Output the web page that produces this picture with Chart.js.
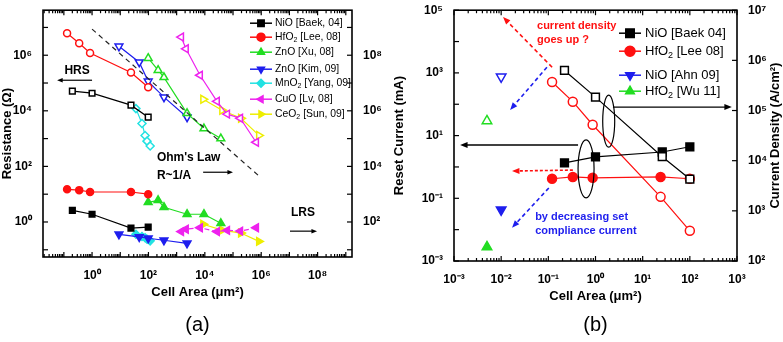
<!DOCTYPE html>
<html><head><meta charset="utf-8">
<script src="https://cdn.jsdelivr.net/npm/chart.js@4.4.1/dist/chart.umd.min.js"></script>
<style>
html,body{margin:0;padding:0;background:#fff;}
#wrap{position:relative;width:783px;height:342px;overflow:hidden;background:#fff;}
#ca{position:absolute;left:0;top:0;}
#cb{position:absolute;left:392px;top:0;}
</style></head><body>
<div id="wrap"><canvas id="ca" width="392" height="342"></canvas><canvas id="cb" width="391" height="342"></canvas></div>
<script>
// ================= Panel (a) data : resistance vs cell area =================
const baekAreaA = [0.2, 1, 24, 98];
const baekHRS   = [5.1e4, 4.3e4, 1.6e4, 5.9e3];
const baekLRS   = [2.6, 1.9, 0.6, 0.65];
const leeAreaA  = [0.13, 0.35, 0.85, 24, 98];
const leeHRS    = [6.2e6, 2.7e6, 1.2e6, 2.4e5, 7.0e4];
const leeLRS    = [15, 14, 12, 12, 10];
const xuArea    = [98, 220, 355, 2340, 9300, 37000];
const xuHRS     = [7.8e5, 2.9e5, 1.6e5, 8.1e3, 2.3e3, 1.0e3];
const xuLRS     = [5.1, 6.0, 3.4, 1.9, 1.9, 0.9];
const kimArea   = [9, 47, 98, 355, 2340];
const kimHRS    = [2.1e6, 5.6e5, 1.15e5, 3.1e4, 5.9e3];
const kimLRS    = [0.36, 0.29, 0.26, 0.22, 0.17];
const yangArea  = [36, 59, 76, 89, 115];
const yangHRS   = [1.2e4, 3.5e3, 1.3e3, 810, 540];
const yangLRS   = [0.36, 0.30, 0.27, 0.24, 0.21];
const lvArea    = [1450, 2140, 6760, 27000, 62000, 180000, 660000];
const lvHRS     = [4.5e6, 1.7e6, 1.9e5, 2.2e4, 7.6e3, 5.4e3, 740];
const lvLRS     = [0.45, 0.55, 0.62, 0.45, 0.50, 0.47, 0.62];
const sunArea   = [8700, 41000, 190000, 830000];
const sunHRS    = [2.6e4, 1.05e4, 5.4e3, 1.3e3];
const sunLRS    = [0.83, 0.51, 0.40, 0.20];
const ohmArea   = [1, 7.8e5];
const ohmR      = [8.7e6, 48];
const aXTickExps  = [0, 2, 4, 6, 8];
const aYTickExps  = [0, 2, 4, 6];
const aY2TickExps = [2, 4, 6, 8];

// ================= Panel (b) data : reset current / current density =================
const baekAreaB   = [0.22, 1.0, 26, 100];
const baekDensity = [6.3e5, 1.85e5, 1.2e4, 4.3e3];
const baekReset   = [1.35, 2.1, 3.0, 4.4];
const leeAreaB    = [0.12, 0.33, 0.87, 24, 100];
const leeDensity  = [3.7e5, 1.5e5, 5.2e4, 1.9e3, 400];
const leeReset    = [0.42, 0.48, 0.45, 0.48, 0.42];
const ahnArea     = [0.01];
const ahnDensity  = [4.7e5];
const ahnReset    = [0.043];
const wuArea      = [0.005];
const wuDensity   = [6.2e4];
const wuReset     = [0.0028];
const bXTickExps  = [-3, -2, -1, 0, 1, 2, 3];
const bYTickExps  = [-3, -1, 1, 3, 5];
const bY2TickExps = [2, 3, 4, 5, 6, 7];

// ================= helpers =================
const FONT = "'Liberation Sans', Arial, Helvetica, sans-serif";
const SUP = {'-':'\u207B','0':'\u2070','1':'\u00B9','2':'\u00B2','3':'\u00B3','4':'\u2074','5':'\u2075','6':'\u2076','7':'\u2077','8':'\u2078','9':'\u2079'};
const sup = n => String(n).split('').map(c => SUP[c]).join('');
const pts = (xs, ys) => xs.map((x, i) => ({x, y: ys[i]}));
function logLabel(exps){
  return function(v){
    const e = Math.log10(v), r = Math.round(e);
    if (Math.abs(e - r) < 1e-6 && exps.includes(r)) return '10' + sup(r);
    return '';
  };
}
const C = {black:'#000000', red:'#ff1010', green:'#22dd22', blue:'#1e1eee', cyan:'#22e2e2', magenta:'#ee22ee', yellow:'#eeee00'};

function ser(data, color, style, rot, open, r, opts){
  return Object.assign({
    data, showLine: true, borderColor: color, borderWidth: 1.2,
    pointStyle: style, rotation: rot, pointRadius: r, pointHoverRadius: r,
    pointBorderColor: color, pointBackgroundColor: open ? '#ffffff' : color,
    pointBorderWidth: 1.5, fill: false, tension: 0
  }, opts || {});
}

function logScale(pos, min, max, exps, title, size){
  return {
    type: 'logarithmic', position: pos, min, max,
    grid: {display: false}, border: {display: false},
    ticks: {autoSkip: false, maxRotation: 0, minRotation: 0, padding: 3,
      color: '#000', font: {family: FONT, size: 12, weight: 'bold'}, callback: logLabel(exps)},
    title: title ? {display: true, text: title, color: '#000', padding: 0,
      font: {family: FONT, size: 13, weight: 'bold'}} : {display: false},
    afterFit: s => { if (s.isHorizontal()) s.height = size; else s.width = size; }
  };
}

function drawTicks(ctx, scale, side, area, minor){
  const lo = Math.log10(scale.min), hi = Math.log10(scale.max);
  ctx.save(); ctx.strokeStyle = '#000'; ctx.lineWidth = 1.2;
  for (let e = Math.floor(lo); e <= Math.ceil(hi); e++){
    for (let m = 1; m <= 9; m++){
      if (m > 1 && !minor) continue;
      const v = m * Math.pow(10, e);
      if (v < scale.min * 0.9999 || v > scale.max * 1.0001) continue;
      const p = scale.getPixelForValue(v);
      const len = m === 1 ? 5 : 3;
      ctx.beginPath();
      if (side === 'bottom'){ ctx.moveTo(p, area.bottom); ctx.lineTo(p, area.bottom - len); }
      if (side === 'top'){ ctx.moveTo(p, area.top); ctx.lineTo(p, area.top + len); }
      if (side === 'left'){ ctx.moveTo(area.left, p); ctx.lineTo(area.left + len, p); }
      if (side === 'right'){ ctx.moveTo(area.right, p); ctx.lineTo(area.right - len, p); }
      ctx.stroke();
    }
  }
  ctx.restore();
}

function arrow(ctx, x1, y1, x2, y2, color, dash, lw, head){
  ctx.save(); ctx.strokeStyle = color; ctx.fillStyle = color; ctx.lineWidth = lw;
  const ang = Math.atan2(y2 - y1, x2 - x1);
  ctx.setLineDash(dash || []);
  ctx.beginPath(); ctx.moveTo(x1, y1);
  ctx.lineTo(x2 - head * 0.8 * Math.cos(ang), y2 - head * 0.8 * Math.sin(ang)); ctx.stroke();
  ctx.setLineDash([]);
  ctx.beginPath(); ctx.moveTo(x2, y2);
  ctx.lineTo(x2 - head * Math.cos(ang - 0.38), y2 - head * Math.sin(ang - 0.38));
  ctx.lineTo(x2 - head * Math.cos(ang + 0.38), y2 - head * Math.sin(ang + 0.38));
  ctx.closePath(); ctx.fill(); ctx.restore();
}

// rich text: parts = [[text, isSub]]
function rich(ctx, x, y, parts, size, weight, color){
  ctx.save(); ctx.fillStyle = color; ctx.textBaseline = 'middle'; ctx.textAlign = 'left';
  let cx = x;
  parts.forEach(([t, sub]) => {
    const s = sub ? Math.round(size * 0.72) : size;
    ctx.font = `${weight} ${s}px ${FONT}`;
    ctx.fillText(t, cx, sub ? y + size * 0.3 : y);
    cx += ctx.measureText(t).width;
  });
  ctx.restore();
}

function legendMarker(ctx, x, y, color, style, rot, r){
  ctx.save(); ctx.strokeStyle = color; ctx.lineWidth = 1.5;
  ctx.beginPath(); ctx.moveTo(x - 11, y); ctx.lineTo(x + 11, y); ctx.stroke();
  ctx.fillStyle = color;
  Chart.helpers.drawPoint(ctx, {pointStyle: style, rotation: rot, radius: r, borderWidth: 1}, x, y);
  ctx.fill();
  ctx.restore();
}

function frame(ctx, a){
  ctx.save(); ctx.strokeStyle = '#000'; ctx.lineWidth = 1.6;
  ctx.strokeRect(a.left, a.top, a.right - a.left, a.bottom - a.top); ctx.restore();
}

// ================= Panel (a) =================
const legendA = [
  {parts: [['NiO [Baek, 04]', 0]], color: C.black, style: 'rect', rot: 0, dy: 13},
  {parts: [['HfO', 0], ['2', 1], [' [Lee, 08]', 0]], color: C.red, style: 'circle', rot: 0, dy: 27},
  {parts: [['ZnO [Xu, 08]', 0]], color: C.green, style: 'triangle', rot: 0, dy: 42},
  {parts: [['ZnO [Kim, 09]', 0]], color: C.blue, style: 'triangle', rot: 180, dy: 59},
  {parts: [['MnO', 0], ['2', 1], [' [Yang, 09]', 0]], color: C.cyan, style: 'rectRot', rot: 0, dy: 73},
  {parts: [['CuO [Lv, 08]', 0]], color: C.magenta, style: 'triangle', rot: -90, dy: 89},
  {parts: [['CeO', 0], ['2', 1], [' [Sun, 09]', 0]], color: C.yellow, style: 'triangle', rot: 90, dy: 104}
];

const decoA = {
  id: 'decoA',
  afterDatasetsDraw(chart){
    const ctx = chart.ctx, a = chart.chartArea, sx = chart.scales.x, sy = chart.scales.y, sy2 = chart.scales.y2;
    const X = v => sx.getPixelForValue(Math.pow(10, v)), Y = v => sy.getPixelForValue(Math.pow(10, v));
    frame(ctx, a);
    drawTicks(ctx, sx, 'bottom', a, true);
    drawTicks(ctx, sx, 'top', a, true);
    drawTicks(ctx, sy, 'left', a, false);
    drawTicks(ctx, sy2, 'right', a, false);
    // annotations
    ctx.save(); ctx.fillStyle = '#000'; ctx.textBaseline = 'middle';
    ctx.font = `bold 12px ${FONT}`; ctx.textAlign = 'center';
    ctx.fillText('HRS', X(-0.53), Y(5.46));
    ctx.fillText('LRS', X(7.48), Y(0.32));
    ctx.textAlign = 'left';
    ctx.fillText("Ohm's Law", X(2.30), Y(2.33));
    ctx.fillText('R~1/A', X(2.30), Y(1.68));
    ctx.restore();
    arrow(ctx, X(0), Y(5.10), X(-1.24), Y(5.10), '#000', null, 1.2, 6);
    arrow(ctx, X(7.02), Y(-0.33), X(7.98), Y(-0.33), '#000', null, 1.2, 6);
    arrow(ctx, X(3.94), Y(1.79), X(5.0), Y(1.79), '#000', null, 1.2, 6);
    // legend
    legendA.forEach(it => {
      const y = a.top + it.dy;
      legendMarker(ctx, a.right - 91, y, it.color, it.style, it.rot, it.style === 'rect' ? 4.5 : 4);
      rich(ctx, a.right - 77, y, it.parts, 10.4, 'normal', '#000');
    });
    // panel label
    ctx.save(); ctx.fillStyle = '#000'; ctx.font = `20px ${FONT}`; ctx.textAlign = 'center'; ctx.textBaseline = 'middle';
    ctx.fillText('(a)', (a.left + a.right) / 2, 325); ctx.restore();
  }
};

new Chart(document.getElementById('ca'), {
  type: 'scatter',
  data: {datasets: [
    {data: pts(ohmArea, ohmR), showLine: true, borderColor: '#222', borderWidth: 1.2, borderDash: [5, 4], pointRadius: 0},
    ser(pts(baekAreaA, baekHRS), C.black, 'rect', 0, true, 4),
    ser(pts(baekAreaA, baekLRS), C.black, 'rect', 0, false, 4),
    ser(pts(leeAreaA, leeHRS), C.red, 'circle', 0, true, 3.5),
    ser(pts(leeAreaA, leeLRS), C.red, 'circle', 0, false, 3.5),
    ser(pts(xuArea, xuHRS), C.green, 'triangle', 0, true, 4.5),
    ser(pts(xuArea, xuLRS), C.green, 'triangle', 0, false, 4.5),
    ser(pts(kimArea, kimHRS), C.blue, 'triangle', 180, true, 4.5),
    ser(pts(kimArea, kimLRS), C.blue, 'triangle', 180, false, 4.5),
    ser(pts(yangArea, yangHRS), C.cyan, 'rectRot', 0, true, 4),
    ser(pts(yangArea, yangLRS), C.cyan, 'rectRot', 0, false, 4),
    ser(pts(lvArea, lvHRS), C.magenta, 'triangle', -90, true, 4.5),
    ser(pts(lvArea, lvLRS), C.magenta, 'triangle', -90, false, 4.5, {borderDash: [5, 3]}),
    ser(pts(sunArea, sunHRS), C.yellow, 'triangle', 90, true, 4.5),
    ser(pts(sunArea, sunLRS), C.yellow, 'triangle', 90, false, 4.5)
  ]},
  options: {
    responsive: false, animation: false, devicePixelRatio: 1,
    layout: {padding: {top: 10, left: 0, right: 0, bottom: 42}},
    plugins: {legend: {display: false}, tooltip: {enabled: false}},
    scales: {
      x: logScale('bottom', Math.pow(10, -1.74), Math.pow(10, 9.22), aXTickExps, 'Cell Area (\u03BCm\u00B2)', 43),
      y: logScale('left', Math.pow(10, -1.26), Math.pow(10, 7.62), aYTickExps, 'Resistance (\u03A9)', 43),
      y2: logScale('right', Math.pow(10, 0.74), Math.pow(10, 9.62), aY2TickExps, null, 40)
    }
  },
  plugins: [decoA]
});

// ================= Panel (b) =================
const legendB = [
  {parts: [['NiO [Baek 04]', 0]], color: C.black, style: 'rect', rot: 0, dy: 23},
  {parts: [['HfO', 0], ['2', 1], [' [Lee 08]', 0]], color: C.red, style: 'circle', rot: 0, dy: 41},
  {parts: [['NiO [Ahn 09]', 0]], color: C.blue, style: 'triangle', rot: 180, dy: 65},
  {parts: [['HfO', 0], ['2', 1], [' [Wu 11]', 0]], color: C.green, style: 'triangle', rot: 0, dy: 81}
];

const decoB = {
  id: 'decoB',
  afterDatasetsDraw(chart){
    const ctx = chart.ctx, a = chart.chartArea, sx = chart.scales.x, sy = chart.scales.y, sy2 = chart.scales.y2;
    const X = v => sx.getPixelForValue(Math.pow(10, v)), Y = v => sy.getPixelForValue(Math.pow(10, v));
    frame(ctx, a);
    drawTicks(ctx, sx, 'bottom', a, true);
    drawTicks(ctx, sx, 'top', a, true);
    drawTicks(ctx, sy, 'left', a, false);
    drawTicks(ctx, sy2, 'right', a, false);
    // dashed arrows
    arrow(ctx, X(-0.92), Y(3.18), X(-1.96), Y(4.78), C.red, [4, 3], 1.6, 8);
    arrow(ctx, X(-1.03), Y(3.18), X(-1.81), Y(1.82), C.blue, [4, 3], 1.6, 8);
    arrow(ctx, X(-0.99), Y(-0.67), X(-1.77), Y(-1.94), C.blue, [4, 3], 1.6, 8);
    arrow(ctx, X(-0.48), Y(-0.10), X(-1.77), Y(-0.13), C.red, [3, 2], 1.6, 8);
    // black arrows to axes
    arrow(ctx, X(-0.37), Y(0.70), X(-2.87), Y(0.70), '#000', null, 1.3, 8);
    arrow(ctx, X(0.37), Y(1.91), X(2.89), Y(1.91), '#000', null, 1.3, 8);
    // ellipses
    ctx.save(); ctx.strokeStyle = '#000'; ctx.lineWidth = 1.2;
    ctx.beginPath(); ctx.ellipse(X(-0.20), Y(-0.06), 8, 29, 0, 0, Math.PI * 2); ctx.stroke();
    ctx.beginPath(); ctx.ellipse(X(0.28), Y(1.46), 6, 26, 0, 0, Math.PI * 2); ctx.stroke();
    ctx.restore();
    // text
    ctx.save(); ctx.textBaseline = 'middle'; ctx.textAlign = 'left'; ctx.font = `bold 11px ${FONT}`;
    ctx.fillStyle = C.red;
    ctx.fillText('current density', X(-1.24), Y(4.49));
    ctx.fillText('goes up ?', X(-1.24), Y(4.04));
    ctx.fillStyle = C.blue;
    ctx.fillText('by decreasing set', X(-1.28), Y(-1.58));
    ctx.fillText('compliance current', X(-1.28), Y(-2.03));
    ctx.restore();
    // legend
    legendB.forEach(it => {
      const y = a.top + it.dy;
      legendMarker(ctx, a.right - 107, y, it.color, it.style, it.rot, it.style === 'rect' ? 6 : 5);
      rich(ctx, a.right - 92, y, it.parts, 13, 'normal', '#000');
    });
    // right axis title (reads bottom-to-top)
    ctx.save(); ctx.fillStyle = '#000'; ctx.font = `bold 13px ${FONT}`; ctx.textAlign = 'center'; ctx.textBaseline = 'middle';
    ctx.translate(chart.width - 8, (a.top + a.bottom) / 2); ctx.rotate(-Math.PI / 2);
    ctx.fillText('Current Density (A/cm\u00B2)', 0, 0); ctx.restore();
    ctx.save(); ctx.fillStyle = '#000'; ctx.font = `20px ${FONT}`; ctx.textAlign = 'center'; ctx.textBaseline = 'middle';
    ctx.fillText('(b)', (a.left + a.right) / 2, 325); ctx.restore();
  }
};

new Chart(document.getElementById('cb'), {
  type: 'scatter',
  data: {datasets: [
    ser(pts(baekAreaB, baekDensity), C.black, 'rect', 0, true, 5.5, {yAxisID: 'y2'}),
    ser(pts(baekAreaB, baekReset), C.black, 'rect', 0, false, 5.5, {yAxisID: 'y'}),
    ser(pts(leeAreaB, leeDensity), C.red, 'circle', 0, true, 4.5, {yAxisID: 'y2'}),
    ser(pts(leeAreaB, leeReset), C.red, 'circle', 0, false, 4.5, {yAxisID: 'y'}),
    ser(pts(ahnArea, ahnDensity), C.blue, 'triangle', 180, true, 5.5, {yAxisID: 'y2'}),
    ser(pts(ahnArea, ahnReset), C.blue, 'triangle', 180, false, 5.5, {yAxisID: 'y'}),
    ser(pts(wuArea, wuDensity), C.green, 'triangle', 0, true, 5.5, {yAxisID: 'y2'}),
    ser(pts(wuArea, wuReset), C.green, 'triangle', 0, false, 5.5, {yAxisID: 'y'})
  ]},
  options: {
    responsive: false, animation: false, devicePixelRatio: 1,
    layout: {padding: {top: 10, left: 0, right: 0, bottom: 38}},
    plugins: {legend: {display: false}, tooltip: {enabled: false}},
    scales: {
      x: logScale('bottom', 1e-3, 1e3, bXTickExps, 'Cell Area (\u03BCm\u00B2)', 43),
      y: logScale('left', 1e-3, 1e5, bYTickExps, 'Reset Current (mA)', 62),
      y2: logScale('right', 1e2, 1e7, bY2TickExps, null, 46)
    }
  },
  plugins: [decoB]
});
</script>
</body></html>
